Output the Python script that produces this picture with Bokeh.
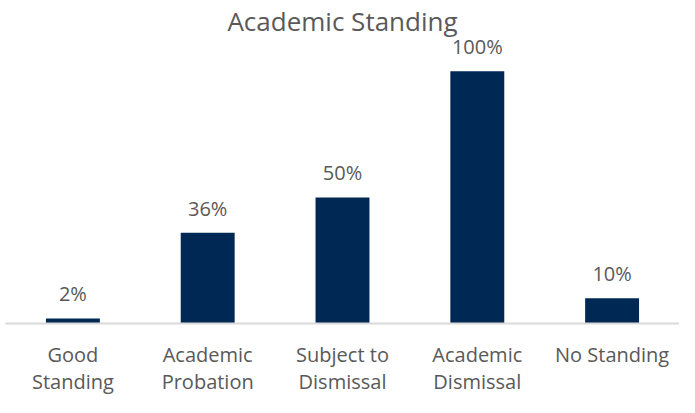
from bokeh.plotting import figure
from bokeh.models import ColumnDataSource, LabelSet, FactorRange, Title
from bokeh.core.properties import value
from bokeh.embed import file_html
from bokeh.resources import INLINE

title_text = "Academic Standing"
categories = ["Good\nStanding", "Academic\nProbation", "Subject to\nDismissal",
              "Academic\nDismissal", "No Standing"]
values = [2, 36, 50, 100, 10]
value_labels = ["2%", "36%", "50%", "100%", "10%"]

BAR = "#002855"
TXT = "#595959"
FONT = "Open Sans"

source = ColumnDataSource(dict(cat=categories, val=values, lab=value_labels))

p = figure(width=679, height=397, x_range=FactorRange(factors=categories),
           y_range=(0, 113), output_backend="svg", toolbar_location=None,
           min_border_left=5, min_border_right=0, min_border_top=0, min_border_bottom=0)

p.title = Title(text=title_text, align="center", text_font=FONT,
                text_font_size="26px", text_color=TXT, text_font_style="normal",
                standoff=0)

p.vbar(x="cat", top="val", width=0.4, source=source, color=BAR, line_color=None)

labels = LabelSet(x="cat", y="val", text="lab", source=source, y_offset=17,
                  text_align="center", text_baseline="alphabetic",
                  text_font=value(FONT), text_font_size=value("20px"),
                  text_color=value(TXT))
p.add_layout(labels)

p.outline_line_color = None
p.grid.grid_line_color = None
p.yaxis.visible = False
p.xaxis.axis_line_color = "#d9d9d9"
p.xaxis.axis_line_width = 2
p.xaxis.major_tick_line_color = None
p.xaxis.minor_tick_line_color = None
p.xaxis.major_label_text_font = FONT
p.xaxis.major_label_text_font_size = "20px"
p.xaxis.major_label_text_line_height = 1.0
p.xaxis.major_label_text_color = TXT
p.xaxis.major_label_standoff = 11
p.x_range.range_padding = 0
p.background_fill_color = "white"
p.border_fill_color = "white"

open("out.html", "w").write(file_html(p, INLINE))
